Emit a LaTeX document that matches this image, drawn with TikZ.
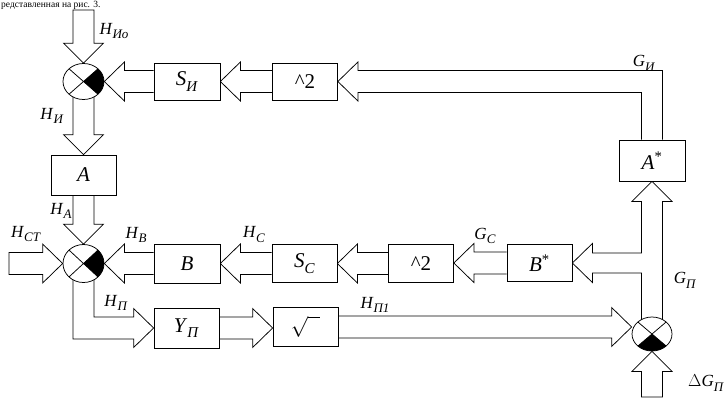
\documentclass[tikz,border=0pt]{standalone}
\usepackage{fontspec}
\setmainfont{Liberation Serif}
\usetikzlibrary{shapes.geometric,calc}
\pgfdeclarelayer{bg}
\pgfsetlayers{bg,main}
\newcommand\lbl[2]{\textit{#1}\raisebox{-0.28em}{\fontsize{13}{14}\selectfont\textit{#2}}}
\newcommand\bxl[2]{\textit{#1}\raisebox{-0.26em}{\fontsize{15}{16}\selectfont\textit{#2}}}
\newcommand\ahs{11pt}
\newcommand\avs{10.5pt}
\newcommand\ahh{19.5pt}
\newcommand\avh{20pt}
\newcommand\ahl{20pt}
% horizontal arrows: [closing] {tail} {tip}
\newcommand\arrL[3][]{\draw[blk] let \p1=(#2),\p2=(#3) in (\x1,\y1+\ahs) -- (\x2+\ahl,\y1+\ahs) -- (\x2+\ahl,\y1+\ahh) -- (\x2,\y1) -- (\x2+\ahl,\y1-\ahh) -- (\x2+\ahl,\y1-\ahs) -- (\x1,\y1-\ahs) #1;}
\newcommand\arrR[3][]{\draw[blk] let \p1=(#2),\p2=(#3) in (\x1,\y1+\ahs) -- (\x2-\ahl,\y1+\ahs) -- (\x2-\ahl,\y1+\ahh) -- (\x2,\y1) -- (\x2-\ahl,\y1-\ahh) -- (\x2-\ahl,\y1-\ahs) -- (\x1,\y1-\ahs) #1;}
% vertical arrows
\newcommand\arrD[3][]{\draw[blk] let \p1=(#2),\p2=(#3) in (\x1-\avs,\y1) -- (\x1-\avs,\y2+\ahl) -- (\x1-\avh,\y2+\ahl) -- (\x1,\y2) -- (\x1+\avh,\y2+\ahl) -- (\x1+\avs,\y2+\ahl) -- (\x1+\avs,\y1) #1;}
\newcommand\arrU[3][]{\draw[blk] let \p1=(#2),\p2=(#3) in (\x1-\avs,\y1) -- (\x1-\avs,\y2-\ahl) -- (\x1-\avh,\y2-\ahl) -- (\x1,\y2) -- (\x1+\avh,\y2-\ahl) -- (\x1+\avs,\y2-\ahl) -- (\x1+\avs,\y1) #1;}
\tikzset{
  blk/.style={draw=black, line width=0.75pt, line join=miter},
  box/.style={draw=black, fill=white, rectangle, inner sep=0pt, minimum width=65pt, minimum height=38pt, line width=0.75pt, font=\fontsize{21}{22}\selectfont},
  lab/.style={inner sep=0pt, font=\fontsize{17}{18}\selectfont},
  sumbase/.style={ellipse, draw=black, fill=white, inner sep=0pt, line width=0.75pt, minimum width=41pt, minimum height=36pt},
  sumR/.style={sumbase, path picture={
    \fill[black] (path picture bounding box.center) -- (path picture bounding box.north east) -- (path picture bounding box.south east) -- cycle;
    \draw[line width=0.75pt] (path picture bounding box.north west) -- (path picture bounding box.south east)
      (path picture bounding box.north east) -- (path picture bounding box.south west);}},
  sumB/.style={sumbase, path picture={
    \fill[black] (path picture bounding box.center) -- (path picture bounding box.south east) -- (path picture bounding box.south west) -- cycle;
    \draw[line width=0.75pt] (path picture bounding box.north west) -- (path picture bounding box.south east)
      (path picture bounding box.north east) -- (path picture bounding box.south west);}}
}
\begin{document}
\begin{tikzpicture}[x=1pt,y=-1pt]
\useasboundingbox (0,0) rectangle (727,408);
\node[anchor=base west, inner sep=0pt, font=\fontsize{9.5}{11}\selectfont] (hdr) at (1,7.2) {редставленная на рис. 3.};
% summing junctions
\node[sumR] (c1) at (83.5,81.5) {};
\node[sumR, minimum height=38pt] (c2) at (83.5,263.5) {};
\node[sumB, minimum width=40pt, minimum height=34pt] (c3) at (652,334) {};
% boxes
\node[box, minimum width=66pt, minimum height=37pt] (sI) at (187,81.5) {\bxl{S}{И}};
\node[box, minimum height=37pt] (sq1) at (305,81.5) {\textasciicircum 2};
\node[box, minimum height=40pt] (A) at (83.5,175) {\textit{A}};
\node[box, minimum width=66pt, minimum height=41pt] (Astar) at (652,160.5) {\textit{A}\textsuperscript{*}};
\node[box, minimum width=66pt, minimum height=39pt] (B) at (187,263.5) {\textit{B}};
\node[box] (sC) at (304.5,263.5) {\bxl{S}{С}};
\node[box] (sq2) at (421,263.5) {\textasciicircum 2};
\node[box, minimum height=37pt] (Bstar) at (539.5,263) {\textit{B}\textsuperscript{*}};
\node[box, minimum height=40pt] (Y) at (186.5,328) {\bxl{Y}{П}};
\node[box, minimum height=39pt] (sqrt) at (305.5,327) {$\sqrt{\vphantom{x}\hphantom{n}}$};
% free ends of input arrows
\coordinate (hio) at (83.5,10);
\coordinate (hct) at (9,263.5);
\coordinate (dg) at (652,397);
% labels
\node[lab] (lHio) at (114,31) {\lbl{H}{Ио}};
\node[lab] (lHi) at (52,116) {\lbl{H}{И}};
\node[lab] (lHa) at (61,211) {\lbl{H}{A}};
\node[lab] (lHct) at (26,234) {\lbl{H}{СТ}};
\node[lab] (lHb) at (136,235) {\lbl{H}{В}};
\node[lab] (lHc) at (254,234.5) {\lbl{H}{С}};
\node[lab] (lGc) at (485,236) {\lbl{G}{С}};
\node[lab] (lHp) at (116,303) {\lbl{H}{П}};
\node[lab] (lHp1) at (375,305) {\lbl{H}{П1}};
\node[lab] (lGi) at (644,63) {\lbl{G}{И}};
\node[lab] (lGp) at (685,280) {\lbl{G}{П}};
\node[lab] (lDGp) at (706,383) {$\Delta$\lbl{G}{П}};
% block arrows
\begin{pgfonlayer}{bg}
\arrD[-- cycle]{hio}{c1.north}
\arrL{sI.west}{c1.east}
\arrL{sq1.west}{sI.east}
\draw[blk] let \p1=(Astar.north), \p2=(sq1.east) in
  (\x1-\avs,\y1) -- (\x1-\avs,\y2-\ahs) -- (\x2+\ahl,\y2-\ahs) -- (\x2+\ahl,\y2-\ahh) -- (\x2,\y2)
  -- (\x2+\ahl,\y2+\ahh) -- (\x2+\ahl,\y2+\ahs) -- (\x1+\avs,\y2+\ahs) -- (\x1+\avs,\y1);
\arrD{c1.center}{A.north}
\arrD{A.south}{c2.north}
\arrR[-- cycle]{hct}{c2.west}
\arrL{B.west}{c2.east}
\arrL{sC.west}{B.east}
\arrL{sq2.west}{sC.east}
\arrL{Bstar.west}{sq2.east}
\draw[blk] let \p1=(c2.center), \p2=(Y.west) in
  (\x1-\avs,\y1) -- (\x1-\avs,\y2-\ahs) -- (\x2-\ahl,\y2-\ahs) -- (\x2-\ahl,\y2-\ahh) -- (\x2,\y2)
  -- (\x2-\ahl,\y2+\ahh) -- (\x2-\ahl,\y2+\ahs) -- (\x1+\avs,\y2+\ahs) -- (\x1+\avs,\y1);
\arrR{Y.east}{sqrt.west}
\arrR{sqrt.east}{c3.west}
\arrU[-- cycle]{dg}{c3.south}
\draw[blk] let \p1=(c3.center), \p2=(Astar.south), \p3=(Bstar.east) in
  (\x1+\avs,\y1) -- (\x1+\avs,\y2-\ahl) -- (\x2+\avh,\y2-\ahl) -- (\x2,\y2) -- (\x2-\avh,\y2-\ahl)
  -- (\x1-\avs,\y2-\ahl) -- (\x1-\avs,\y3+10pt) -- (\x3+\ahl,\y3+10pt) -- (\x3+\ahl,\y3+\ahh) -- (\x3,\y3)
  -- (\x3+\ahl,\y3-\ahh) -- (\x3+\ahl,\y3-10pt) -- (\x1-\avs,\y3-10pt) -- (\x1-\avs,\y1);
\end{pgfonlayer}
\end{tikzpicture}
\end{document}
